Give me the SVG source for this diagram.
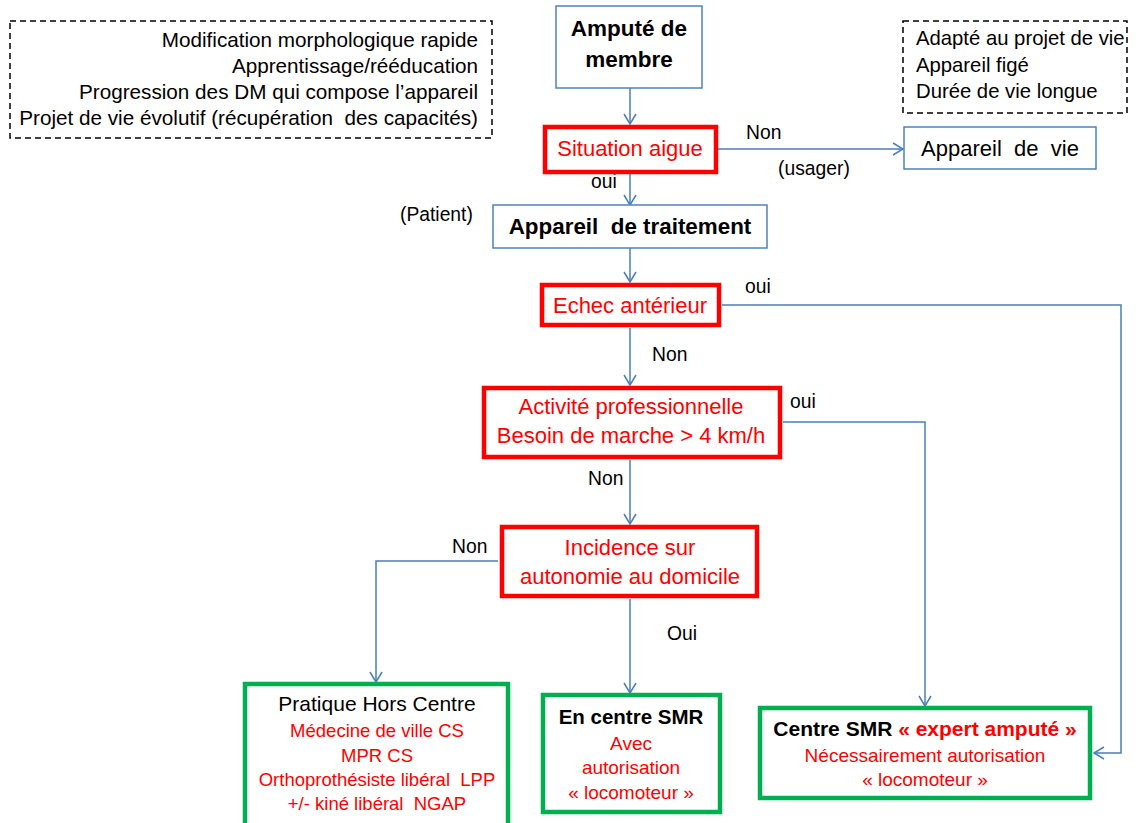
<svg xmlns="http://www.w3.org/2000/svg" width="1138" height="823" viewBox="0 0 1138 823">
<defs>
<style>
text{font-family:"Liberation Sans",Arial,sans-serif;fill:#000}
.note{font-size:20.7px}
.lbl{font-size:19.3px}
.red{fill:#ff0000}
.b{font-weight:bold}
.c{text-anchor:middle}
.bluebox{fill:#fff;stroke:#4f81bd;stroke-width:1.5}
.redbox{fill:#fff;stroke:#ff0000;stroke-width:4.5}
.greenbox{fill:#fff;stroke:#00b050;stroke-width:4.5}
.dash{fill:none;stroke:#000;stroke-width:1.5;stroke-dasharray:6 4}
.conn{fill:none;stroke:#4a7ebb;stroke-width:1.5}
</style>
<marker id="arr" viewBox="0 0 12 14" refX="11" refY="7" markerWidth="12" markerHeight="14" markerUnits="userSpaceOnUse" orient="auto">
<path d="M1,1 L11,7 L1,13" fill="none" stroke="#4a7ebb" stroke-width="1.5"/>
</marker>
</defs>
<rect width="1138" height="823" fill="#fff"/>

<g id="note-left">
<rect class="dash" x="10" y="21" width="482" height="117"/>
<text class="note" text-anchor="end" x="478" y="47">Modification morphologique rapide</text>
<text class="note" text-anchor="end" x="478" y="73">Apprentissage/rééducation</text>
<text class="note" text-anchor="end" x="478" y="99">Progression des DM qui compose l’appareil</text>
<text class="note" text-anchor="end" x="478" y="125" xml:space="preserve">Projet de vie évolutif (récupération  des capacités)</text>
</g>

<g id="note-right">
<rect class="dash" x="903" y="21" width="224" height="92"/>
<text class="note" x="916" y="45" style="font-size:20.3px">Adapté au projet de vie</text>
<text class="note" x="916" y="72" style="font-size:20.3px">Appareil figé</text>
<text class="note" x="916" y="98" style="font-size:20.3px">Durée de vie longue</text>
</g>

<g id="connectors">
<line class="conn" x1="630" y1="88" x2="630" y2="124" marker-end="url(#arr)"/>
<line class="conn" x1="718" y1="149" x2="903" y2="149" marker-end="url(#arr)"/>
<line class="conn" x1="630" y1="173" x2="630" y2="205" marker-end="url(#arr)"/>
<line class="conn" x1="630" y1="248" x2="630" y2="282" marker-end="url(#arr)"/>
<polyline class="conn" points="722,305 1121,305 1121,753 1094,753" marker-end="url(#arr)"/>
<line class="conn" x1="630" y1="328" x2="630" y2="385" marker-end="url(#arr)"/>
<polyline class="conn" points="783,422 925,422 925,706" marker-end="url(#arr)"/>
<line class="conn" x1="630" y1="460" x2="630" y2="524" marker-end="url(#arr)"/>
<polyline class="conn" points="498,561 376,561 376,682" marker-end="url(#arr)"/>
<line class="conn" x1="630" y1="599" x2="630" y2="693" marker-end="url(#arr)"/>
</g>

<g id="labels">
<text class="lbl" x="746" y="139">Non</text>
<text class="lbl" x="778" y="175">(usager)</text>
<text class="lbl" x="591" y="188">oui</text>
<text class="lbl" x="400" y="221">(Patient)</text>
<text class="lbl" x="745" y="293">oui</text>
<text class="lbl" x="652" y="361">Non</text>
<text class="lbl" x="790" y="408">oui</text>
<text class="lbl" x="588" y="485">Non</text>
<text class="lbl" x="452" y="553">Non</text>
<text class="lbl" x="667" y="640">Oui</text>
</g>

<g id="n-ampute">
<rect class="bluebox" x="556" y="6" width="146" height="82"/>
<text class="b c" x="629" y="36" font-size="22.5">Amputé de</text>
<text class="b c" x="629" y="67" font-size="22.5">membre</text>
</g>

<g id="n-situation">
<rect class="redbox" x="545" y="127" width="171" height="45"/>
<text class="red c" x="630" y="156" font-size="22">Situation aigue</text>
</g>

<g id="n-appareil-vie">
<rect class="bluebox" x="904" y="127" width="192" height="42"/>
<text class="c" x="1000" y="156" font-size="22" xml:space="preserve">Appareil  de  vie</text>
</g>

<g id="n-traitement">
<rect class="bluebox" x="493" y="205" width="274" height="43"/>
<text class="b c" x="630" y="234" font-size="22.4" xml:space="preserve">Appareil  de traitement</text>
</g>

<g id="n-echec">
<rect class="redbox" x="542" y="285" width="177" height="40"/>
<text class="red c" x="630" y="313" font-size="22">Echec antérieur</text>
</g>

<g id="n-activite">
<rect class="redbox" x="484" y="388" width="296" height="69"/>
<text class="red c" x="631" y="414" font-size="22">Activité professionnelle</text>
<text class="red c" x="631" y="443" font-size="22">Besoin de marche &gt; 4 km/h</text>
</g>

<g id="n-incidence">
<rect class="redbox" x="502" y="527" width="255" height="69"/>
<text class="red c" x="630" y="555" font-size="22">Incidence sur</text>
<text class="red c" x="630" y="584" font-size="22">autonomie au domicile</text>
</g>

<g id="n-pratique">
<rect class="greenbox" x="245" y="684" width="263" height="145"/>
<text class="c" x="377" y="711" font-size="21">Pratique Hors Centre</text>
<text class="red c" x="377" y="737" font-size="18.5">Médecine de ville CS</text>
<text class="red c" x="377" y="762" font-size="18.5">MPR CS</text>
<text class="red c" x="377" y="786" font-size="18.5" xml:space="preserve">Orthoprothésiste libéral  LPP</text>
<text class="red c" x="377" y="810" font-size="18.5" xml:space="preserve">+/- kiné libéral  NGAP</text>
</g>

<g id="n-encentre">
<rect class="greenbox" x="543" y="695" width="177" height="117"/>
<text class="b c" x="631" y="724" font-size="20.5">En centre SMR</text>
<text class="red c" x="631" y="750" font-size="19">Avec</text>
<text class="red c" x="631" y="774" font-size="19">autorisation</text>
<text class="red c" x="631" y="799" font-size="19">« locomoteur »</text>
</g>

<g id="n-centre-expert">
<rect class="greenbox" x="760" y="708" width="330" height="90"/>
<text class="b c" x="925" y="736" font-size="21">Centre SMR <tspan class="red">« expert amputé »</tspan></text>
<text class="red c" x="925" y="762" font-size="19">Nécessairement autorisation</text>
<text class="red c" x="925" y="786" font-size="19">« locomoteur »</text>
</g>
</svg>
